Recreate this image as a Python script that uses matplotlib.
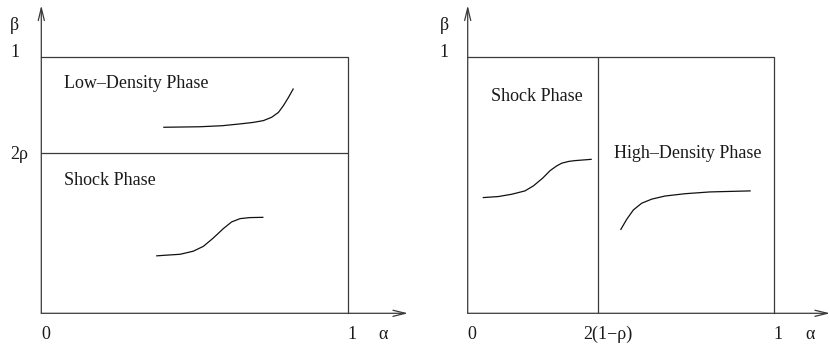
import matplotlib
matplotlib.use("Agg")
import matplotlib.pyplot as plt

# ---- data ----
rho2 = 0.626            # position of 2rho on beta axis (left panel)
one_minus_rho2 = 0.425  # position of 2(1-rho) on alpha axis (right panel)

ld_x = [0.400, 0.460, 0.518, 0.590, 0.648, 0.692, 0.725, 0.752, 0.774, 0.790, 0.806, 0.822]
ld_y = [0.725, 0.726, 0.727, 0.731, 0.738, 0.744, 0.751, 0.764, 0.783, 0.809, 0.840, 0.874]

sl_x = [0.377, 0.414, 0.453, 0.496, 0.529, 0.561, 0.594, 0.621, 0.649, 0.681, 0.723]
sl_y = [0.224, 0.227, 0.230, 0.242, 0.261, 0.293, 0.330, 0.356, 0.369, 0.373, 0.374]

sr_x = [0.051, 0.100, 0.144, 0.187, 0.215, 0.245, 0.269, 0.290, 0.307, 0.330, 0.350, 0.403]
sr_y = [0.451, 0.455, 0.464, 0.477, 0.497, 0.527, 0.556, 0.574, 0.585, 0.592, 0.595, 0.600]

hd_x = [0.500, 0.519, 0.541, 0.568, 0.601, 0.644, 0.709, 0.791, 0.922]
hd_y = [0.327, 0.366, 0.403, 0.429, 0.445, 0.457, 0.466, 0.473, 0.477]

left_xticks = ["0", "1"]
right_xticks = ["0", "2(1\u2212\u03c1)", "1"]

LC = "#3a3a3a"
TC = "#1a1a1a"
LW = 0.9
FS = 13
FONT = "Liberation Serif"

fig = plt.figure(figsize=(8.3, 3.49), dpi=100)
fig.patch.set_facecolor("white")

axL = fig.add_axes([41.3 / 830, 1 - 313.3 / 349, 306.4 / 830, 256.6 / 349])
axR = fig.add_axes([467.7 / 830, 1 - 313.3 / 349, 306.3 / 830, 256.6 / 349])

def frame(ax, xend, yend):
    ax.set_xlim(0, 1)
    ax.set_ylim(0, 1)
    ax.axis("off")
    ap = dict(arrowstyle="->,head_length=0.9,head_width=0.22", color=LC, lw=LW,
              shrinkA=0, shrinkB=0, mutation_scale=10)
    ax.annotate("", xy=(xend, 0), xytext=(0, 0), arrowprops=ap, annotation_clip=False)
    ax.annotate("", xy=(0, yend), xytext=(0, 0), arrowprops=ap, annotation_clip=False)
    ax.plot([0, 1, 1], [1, 1, 0], color=LC, lw=LW, clip_on=False)

def txt(ax, x, y, s, ha="center", va="center"):
    ax.text(x, y, s, ha=ha, va=va, fontsize=FS, family=FONT, color=TC, clip_on=False)

# left panel
frame(axL, 1.197, 1.20)
axL.plot([0, 1], [rho2, rho2], color=LC, lw=LW)
axL.plot(ld_x, ld_y, color="#111111", lw=LW)
axL.plot(sl_x, sl_y, color="#111111", lw=LW)
txt(axL, 0.074, 0.894, "Low\u2013Density Phase", ha="left")
txt(axL, 0.074, 0.519, "Shock Phase", ha="left")
txt(axL, -0.089, 1.12, "\u03b2")
txt(axL, -0.086, 1.018, "1")
txt(axL, -0.073, 0.617, "2\u03c1")
txt(axL, 0.015, -0.081, left_xticks[0])
txt(axL, 1.014, -0.081, left_xticks[1])
txt(axL, 1.115, -0.081, "\u03b1")

# right panel
frame(axR, 1.183, 1.20)
axR.plot([one_minus_rho2, one_minus_rho2], [0, 1], color=LC, lw=LW)
axR.plot(sr_x, sr_y, color="#111111", lw=LW)
axR.plot(hd_x, hd_y, color="#111111", lw=LW)
txt(axR, 0.076, 0.844, "Shock Phase", ha="left")
txt(axR, 0.478, 0.621, "High\u2013Density Phase", ha="left")
txt(axR, -0.076, 1.12, "\u03b2")
txt(axR, -0.077, 1.018, "1")
txt(axR, 0.014, -0.081, right_xticks[0])
txt(axR, 0.457, -0.081, right_xticks[1])
txt(axR, 1.013, -0.081, right_xticks[2])
txt(axR, 1.118, -0.081, "\u03b1")

fig.savefig("out.png", dpi=100, facecolor="white")
